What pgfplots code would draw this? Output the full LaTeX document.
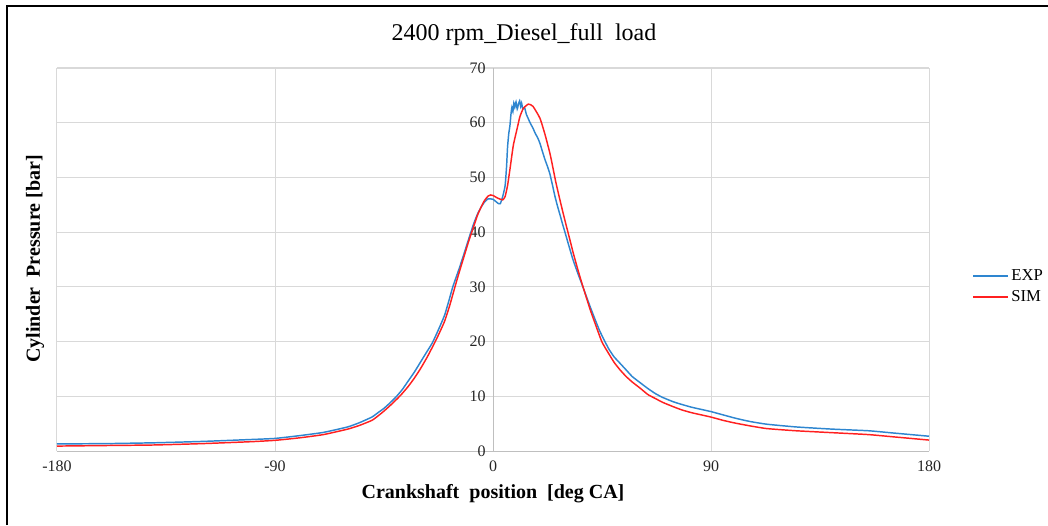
\documentclass[border=0pt]{standalone}
\usepackage{fontspec}
\setmainfont{Liberation Serif}
\usepackage{pgfplots}
\pgfplotsset{compat=1.18}
\definecolor{expblue}{HTML}{2E86D0}
\definecolor{simred}{HTML}{FF2020}
\definecolor{gridgray}{HTML}{D9D9D9}
\definecolor{axisgray}{HTML}{BFBFBF}

\begin{document}
\begin{tikzpicture}
\useasboundingbox (-42.75pt,-55.5pt) rectangle (743.25pt,338.25pt);
% partial frame of the chart area
\draw[line width=1.5pt] (-37.5pt,-55.5pt) -- (-37.5pt,333.75pt) -- (743.25pt,333.75pt);
\begin{axis}[
  at={(0,0)}, anchor=south west,
  scale only axis, width=654pt, height=287.25pt,
  xmin=-180, xmax=180, ymin=0, ymax=70,
  axis x line*=bottom, axis y line*=middle,
  axis line style={axisgray, line width=0.75pt},
  hide obscured x ticks=false, hide obscured y ticks=false,
  xtick={-180,-90,0,90,180},
  ytick={0,10,...,70},
  major tick length=0pt,
  grid=major,
  major grid style={gridgray, line width=0.75pt},
  tick label style={font=\fontsize{12}{14}\selectfont, text=black!85},
  /pgf/number format/assume math mode=true,
  xticklabel style={yshift=-4pt},
  yticklabel style={xshift=-2pt},
  legend style={draw=none, fill=none, at={(1.045,0.43)}, anchor=west,
    font=\fontsize{12.5}{14}\selectfont, row sep=2pt,
    /tikz/every even column/.append style={column sep=2pt}},
  legend cell align=left,
  legend image code/.code={\draw[#1] (0pt,0pt) -- (26pt,0pt);},
]
\addplot[expblue, line width=1.1pt, smooth, tension=0.3] coordinates {
(-180,1.3) (-160,1.35) (-140,1.5) (-120,1.75) (-100,2.1) (-90,2.3)
(-80,2.8) (-70,3.4) (-60,4.4) (-55,5.2) (-50,6.2) (-47.5,7.0) (-45,7.8)
(-42.5,8.8) (-40,9.9) (-37.5,11.2) (-35,12.8) (-32.5,14.4) (-30,16.2)
(-27.5,18.0) (-25,19.8) (-22.5,22.2) (-20,24.8) (-18,27.8) (-16.6,30)
(-14,33.3) (-12,36) (-10,38.8) (-8,41.5) (-6.5,43.2) (-5,44.5) (-3.5,45.5)
(-2,46.1) (0,46.0) (2,45.3) (3,45.2) (4,46.5) (5,48.5) (5.6,52) (6,55.5)
(6.5,58) (7,59.5) (7.4,61.5) (7.8,62.8) (8.2,62.0) (8.6,63.6) (9.0,62.8)
(9.5,63.8) (10.0,62.5) (10.5,63.4) (11.0,64.0) (11.4,63.0) (11.8,63.6)
(12.3,62.5) (13.0,62.8) (13.8,61.5) (14.5,60.8) (15.3,60.0) (16.5,59.0)
(17.5,58.0) (18.5,57.2) (19.4,56.2) (20.5,54.6) (21.5,53.2) (22.5,52.0)
(23.5,50.6) (24.5,48.7) (25.6,46.5) (26.6,44.8) (27.7,43.1) (28.7,41.5)
(29.7,40) (31,38.0) (33,35) (35,32.5) (36.6,30.6) (40,26.5) (42,24.2)
(44,22.0) (46.2,20) (48,18.5) (50,17.2) (52.5,16.0) (55,14.8)
(57.5,13.6) (60.7,12.5) (64,11.4) (67,10.5) (70,9.8) (74.4,9.0)
(78,8.5) (82,8.0) (86,7.6) (90,7.2) (95,6.6) (100,6.0) (106,5.4)
(113,4.9) (125,4.4) (140,4.0) (155,3.7) (165,3.3) (180,2.7)
};
\addlegendentry{EXP}
\addplot[simred, line width=1.1pt, smooth, tension=0.3] coordinates {
(-180,0.9) (-160,1.0) (-140,1.1) (-120,1.35) (-100,1.7) (-90,1.95)
(-80,2.4) (-70,3.0) (-60,4.0) (-55,4.7) (-50,5.6) (-47.5,6.4) (-45,7.3)
(-41.5,8.7) (-38.1,10.2) (-35,11.8) (-32.5,13.3) (-30,15) (-27,17.3)
(-23.5,20.3) (-21.5,22.2) (-20,23.7) (-18,26.4) (-15.7,30) (-14,32.6)
(-12,35.5) (-10,38.4) (-8,41) (-6.5,43) (-5,44.5) (-3.5,45.8)
(-2,46.6) (-1,46.8) (0,46.7) (2,46.2) (4,45.9) (5,46.5) (6,48.5) (7,51.5)
(8.4,55.9) (10,59) (11.1,61.1) (12.5,62.6) (14.6,63.4) (16.5,63.0)
(19.4,60.8) (21.5,57.8) (23.5,54.4) (24.5,52.3) (26,49.0) (28,45.2)
(30,41.6) (31,39.9) (33,36.4) (35,33.2) (36.6,30.8) (40,26.0) (42,23.5)
(44.9,20) (47.5,18) (50,16.2) (52.5,14.8) (55,13.6) (57.5,12.6) (60.7,11.5)
(64,10.3) (67,9.6) (70,8.9) (74.4,8.1) (78,7.5) (82,7.0) (86,6.6)
(90,6.2) (95,5.6) (100,5.1) (106,4.6) (113,4.1) (125,3.7) (140,3.35)
(155,3.0) (165,2.6) (180,2.0)
};
\addlegendentry{SIM}
\end{axis}
\node[font=\fontsize{18}{21}\selectfont] at (350.25pt,312pt) {2400 rpm\_Diesel\_full\ \ load};
\node[font=\fontsize{15}{18}\selectfont\bfseries] at (327pt,-32.25pt) {Crankshaft\ \ position\ \ [deg CA]};
\node[font=\fontsize{15}{18}\selectfont\bfseries, rotate=90] at (-16.5pt,144pt) {Cylinder\ \ Pressure [bar]};
\end{tikzpicture}
\end{document}
